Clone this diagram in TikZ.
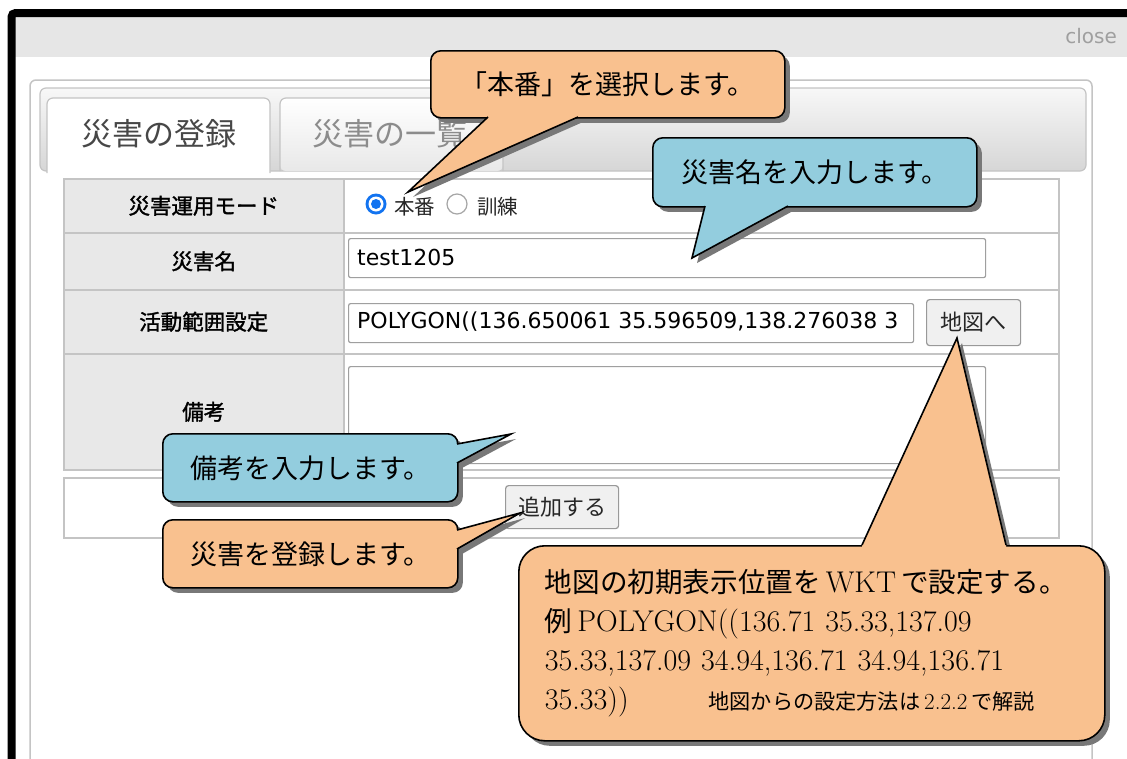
\documentclass[tikz,border=0pt]{standalone}
\usepackage{fontspec}
\usepackage{xcolor}
\usepackage{tikz}
\usetikzlibrary{shadows}
\newfontfamily\jp{Noto Sans CJK JP}
\newfontfamily\jpbold[FakeBold=1.5]{Noto Sans CJK JP}
\newfontfamily\jpnote[Scale=0.92]{Noto Sans CJK JP}
\newfontfamily\ui{DejaVu Sans}
\definecolor{callout_orange}{HTML}{F9C18F}
\definecolor{callout_blue}{HTML}{93CDDE}
\definecolor{shadow_gray}{HTML}{787878}
\definecolor{bar_gray}{HTML}{E6E6E6}
\definecolor{cell_gray}{HTML}{E8E8E8}
\definecolor{line_gray}{HTML}{C4C4C4}
\definecolor{radio_blue}{HTML}{1273F0}

\begin{document}
\begin{tikzpicture}[
                x=1pt,
                y=-1pt,
                callbox/.style={draw=black, line width=1.6pt, rounded corners=10pt, anchor=north west, inner sep=0pt,
                    drop shadow={shadow xshift=5pt, shadow yshift=-5pt, fill=shadow_gray, opacity=1},
                    font=\jp\fontsize{27}{32}\selectfont},
                tailside/.style={draw=black, line width=1.6pt},
                labelcell/.style={draw=line_gray, line width=1.5pt, fill=cell_gray, anchor=north west,
                    minimum width=280, font=\jpbold\fontsize{21.5}{24}\selectfont},
                valuecell/.style={draw=line_gray, line width=1.5pt, fill=white, anchor=north west, minimum width=715},
                inputbox/.style={draw=gray!75, line width=1.2pt, fill=white, rounded corners=2pt, anchor=north west},
                uibutton/.style={draw=gray!80, line width=1.2pt, fill=gray!12, rounded corners=3pt, anchor=north west,
                    text=black!85, font=\jp\fontsize{22}{26}\selectfont},
                uitext/.style={anchor=west, inner sep=0pt, text=black!85, font=\jp\fontsize{20.5}{24}\selectfont},
                fieldtext/.style={anchor=west, inner sep=0pt, font=\ui\fontsize{22}{26}\selectfont},
            ]
            \useasboundingbox (0,0) rectangle (1127,758);
            \clip (0,0) rectangle (1127,758);

            % Window with title bar
            \fill[white] (0,0) rectangle (1127,758);
            \fill[bar_gray] (15,17) rectangle (1127,57);
            \draw[line width=8pt, rounded corners=4pt] (11.5,780) -- (11.5,13) -- (1150,13);
            \node[anchor=east, inner sep=0pt, text=gray!75, font=\ui\fontsize{20}{24}\selectfont] (closeTxt) at (1117,36) {close};

            % Panel and tab bar
            \draw[line_gray, line width=1.5pt, rounded corners=6pt] (30,800) rectangle (1092,80);
            \shade[top color=gray!6, bottom color=gray!32, rounded corners=6pt] (40,88) rectangle (1086,171);
            \draw[line_gray, line width=1.2pt, rounded corners=6pt] (40,88) rectangle (1086,171);

            % Active tab
            \fill[white, rounded corners=6pt] (47,98) rectangle (270,185);
            \draw[line_gray, line width=1.2pt, rounded corners=6pt] (47,173) -- (47,98) -- (270,98) -- (270,173);
            \node[text=black!72, font=\jp\fontsize{31}{36}\selectfont] (tabEntry) at (159,134) {災害の登録};

            % Second tab
            \shade[top color=white, bottom color=gray!18, rounded corners=6pt] (280,98) rectangle (503,171);
            \draw[line_gray, line width=1.2pt, rounded corners=6pt] (280,171) -- (280,98) -- (503,98) -- (503,171);
            \node[text=black!45, font=\jp\fontsize{31}{36}\selectfont] (tabList) at (390,134) {災害の一覧};

            % Form table
            \node[labelcell, minimum height=54] (modeLbl) at (63,178) {災害運用モード};
            \node[valuecell, minimum height=54] (modeVal) at (343,178) {};
            \node[labelcell, minimum height=57] (nameLbl) at (63,232) {災害名};
            \node[valuecell, minimum height=57] (nameVal) at (343,232) {};
            \node[labelcell, minimum height=64] (areaLbl) at (63,289) {活動範囲設定};
            \node[valuecell, minimum height=64] (areaVal) at (343,289) {};
            \node[labelcell, minimum height=116] (noteLbl) at (63,353) {備考};
            \node[valuecell, minimum height=116] (noteVal) at (343,353) {};
            \node[draw=line_gray, line width=1.5pt, anchor=north west, minimum width=995, minimum height=60] (btnRow) at (63,477) {};

            % Radio buttons
            \node[circle, fill=radio_blue, minimum size=21, inner sep=0pt] (radioOn) at (376,204) {};
            \fill[white] (radioOn) circle[radius=7.5pt];
            \fill[radio_blue] (radioOn) circle[radius=5pt];
            \node[uitext] (honbanTxt) at (394,207) {本番};
            \node[circle, draw=gray!70, line width=1.2pt, fill=white, minimum size=20, inner sep=0pt] (radioOff) at (457,204) {};
            \node[uitext] (kunrenTxt) at (477,207) {訓練};

            % Inputs and buttons
            \node[inputbox, minimum width=637, minimum height=39] (nameIn) at (348,238) {};
            \node[fieldtext] (nameTxt) at (357,257) {test1205};
            \node[inputbox, minimum width=565, minimum height=39] (areaIn) at (348,303) {};
            \begin{scope}
                \clip (350,304) rectangle (911,341);
                \node[fieldtext] (areaTxt) at (357,322) {POLYGON((136.650061 35.596509,138.276038 3};
            \end{scope}
            \node[uibutton, minimum width=94, minimum height=46] (mapBtn) at (926,299) {地図へ};
            \node[inputbox, minimum width=637, minimum height=97] (noteIn) at (348,366) {};
            \node[uibutton, minimum width=113, minimum height=43] (addBtn) at (505,485) {追加する};

            % Callout tails: base points and tips
            \coordinate (selA) at (488,117);
            \coordinate (selB) at (578,117);
            \coordinate (selTip) at (408,192);
            \coordinate (nameA) at (705,206);
            \coordinate (nameB) at (788,206);
            \coordinate (nameTip) at (692,258);
            \coordinate (noteA) at (457,444);
            \coordinate (noteB) at (457,463);
            \coordinate (noteTip) at (511,434);
            \coordinate (addA) at (457,530);
            \coordinate (addB) at (457,549);
            \coordinate (addTip) at (520,513);
            \coordinate (wktA) at (862,545);
            \coordinate (wktB) at (1006,545);
            \coordinate (wktTip) at (957,338);

            % Tail shadows
            \fill[shadow_gray] ([shift={(5,5)}]selA) -- ([shift={(5,5)}]selTip) -- ([shift={(5,5)}]selB) -- cycle;
            \fill[shadow_gray] ([shift={(5,5)}]nameA) -- ([shift={(5,5)}]nameTip) -- ([shift={(5,5)}]nameB) -- cycle;
            \fill[shadow_gray] ([shift={(5,5)}]noteA) -- ([shift={(5,5)}]noteTip) -- ([shift={(5,5)}]noteB) -- cycle;
            \fill[shadow_gray] ([shift={(5,5)}]addA) -- ([shift={(5,5)}]addTip) -- ([shift={(5,5)}]addB) -- cycle;
            \fill[shadow_gray] ([shift={(5,5)}]wktA) -- ([shift={(5,5)}]wktTip) -- ([shift={(5,5)}]wktB) -- cycle;

            % Callout boxes
            \node[callbox, fill=callout_orange, minimum width=354, minimum height=67] (selBox) at (430,50) {「本番」を選択します。};
            \node[callbox, fill=callout_blue, minimum width=324, minimum height=69] (nameBox) at (652,137) {災害名を入力します。};
            \node[callbox, fill=callout_blue, minimum width=295, minimum height=68] (noteBox) at (162,433) {備考を入力します。};
            \node[callbox, fill=callout_orange, minimum width=295, minimum height=68] (addBox) at (162,519) {災害を登録します。};
            \node[callbox, fill=callout_orange, rounded corners=26pt, minimum width=586, minimum height=195,
                text width=534, align=left, font=\fontsize{30}{39}\selectfont] (wktBox) at (518,545)
                {{\jpnote 地図の初期表示位置を}\kern5pt WKT\kern5pt{\jpnote で設定する。}\\
                 {\jpnote 例}\kern5pt POLYGON((136.71 35.33,137.09\\
                 35.33,137.09 34.94,136.71 34.94,136.71\\
                 35.33))\hspace*{80pt}{\fontsize{23}{39}\selectfont{\jpnote 地図からの設定方法は}\kern4pt 2.2.2\kern4pt{\jpnote で解説}}};

            % Callout tails
            \fill[callout_orange] ([shift={(0,-2)}]selA) -- (selA) -- (selTip) -- (selB) -- ([shift={(0,-2)}]selB) -- cycle;
            \draw[tailside] (selA) -- (selTip) -- (selB);
            \fill[callout_blue] ([shift={(0,-2)}]nameA) -- (nameA) -- (nameTip) -- (nameB) -- ([shift={(0,-2)}]nameB) -- cycle;
            \draw[tailside] (nameA) -- (nameTip) -- (nameB);
            \fill[callout_blue] ([shift={(-2,0)}]noteA) -- (noteA) -- (noteTip) -- (noteB) -- ([shift={(-2,0)}]noteB) -- cycle;
            \draw[tailside] (noteA) -- (noteTip) -- (noteB);
            \fill[callout_orange] ([shift={(-2,0)}]addA) -- (addA) -- (addTip) -- (addB) -- ([shift={(-2,0)}]addB) -- cycle;
            \draw[tailside] (addA) -- (addTip) -- (addB);
            \fill[callout_orange] ([shift={(0,2)}]wktA) -- (wktA) -- (wktTip) -- (wktB) -- ([shift={(0,2)}]wktB) -- cycle;
            \draw[tailside] (wktA) -- (wktTip) -- (wktB);
        \end{tikzpicture}
\end{document}
